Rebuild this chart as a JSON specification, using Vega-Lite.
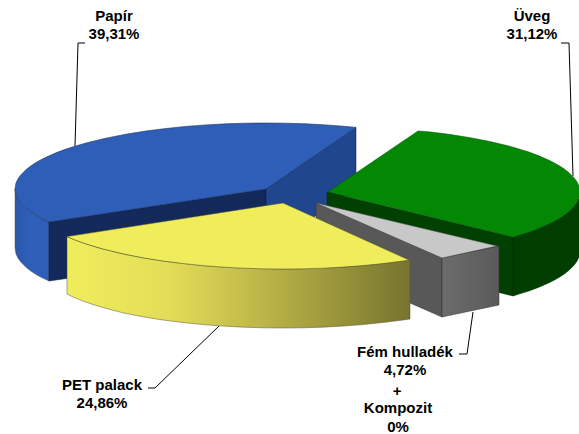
{
"$schema":"https://vega.github.io/schema/vega-lite/v6.json",
"width":579,"height":434,"padding":0,"autosize":{"type":"none"},
"background":"white","view":{"stroke":null},
"datasets":{
"shapes":[
{"part":"blueOuter","n":1,"x":15,"y":189},{"part":"blueOuter","n":2,"x":16,"y":194.9},{"part":"blueOuter","n":3,"x":18,"y":199.2},{"part":"blueOuter","n":4,"x":21,"y":203.3},{"part":"blueOuter","n":5,"x":26,"y":208.3},{"part":"blueOuter","n":6,"x":31,"y":212.2},{"part":"blueOuter","n":7,"x":36,"y":215.4},{"part":"blueOuter","n":8,"x":41,"y":218.25},{"part":"blueOuter","n":9,"x":49,"y":222},{"part":"blueOuter","n":10,"x":49,"y":281},{"part":"blueOuter","n":11,"x":41,"y":277.25},{"part":"blueOuter","n":12,"x":36,"y":274.4},{"part":"blueOuter","n":13,"x":31,"y":271.2},{"part":"blueOuter","n":14,"x":26,"y":267.3},{"part":"blueOuter","n":15,"x":21,"y":262.3},{"part":"blueOuter","n":16,"x":18,"y":258.2},{"part":"blueOuter","n":17,"x":16,"y":253.9},{"part":"blueOuter","n":18,"x":15,"y":248},{"part":"blueOuter","n":19,"x":15,"y":189},
{"part":"blueInner","n":1,"x":49,"y":222},{"part":"blueInner","n":2,"x":266,"y":189},{"part":"blueInner","n":3,"x":266,"y":250},{"part":"blueInner","n":4,"x":49,"y":281},{"part":"blueInner","n":5,"x":49,"y":222},
{"part":"blueRight","n":1,"x":266,"y":189},{"part":"blueRight","n":2,"x":356,"y":127.4},{"part":"blueRight","n":3,"x":356,"y":188},{"part":"blueRight","n":4,"x":266,"y":250},{"part":"blueRight","n":5,"x":266,"y":189},
{"part":"blueTop","n":1,"x":49,"y":222},{"part":"blueTop","n":2,"x":41,"y":218.25},{"part":"blueTop","n":3,"x":36,"y":215.4},{"part":"blueTop","n":4,"x":31,"y":212.2},{"part":"blueTop","n":5,"x":26,"y":208.3},{"part":"blueTop","n":6,"x":21,"y":203.3},{"part":"blueTop","n":7,"x":18,"y":199.2},{"part":"blueTop","n":8,"x":16,"y":194.9},{"part":"blueTop","n":9,"x":15,"y":189},{"part":"blueTop","n":10,"x":16,"y":183.1},{"part":"blueTop","n":11,"x":18,"y":178.8},{"part":"blueTop","n":12,"x":21,"y":174.7},{"part":"blueTop","n":13,"x":26,"y":169.7},{"part":"blueTop","n":14,"x":31,"y":165.8},{"part":"blueTop","n":15,"x":36,"y":162.6},{"part":"blueTop","n":16,"x":41,"y":159.75},{"part":"blueTop","n":17,"x":46,"y":157.2},{"part":"blueTop","n":18,"x":56,"y":152.85},{"part":"blueTop","n":19,"x":66,"y":149.1},{"part":"blueTop","n":20,"x":76,"y":145.9},{"part":"blueTop","n":21,"x":86,"y":143},{"part":"blueTop","n":22,"x":106,"y":138.15},{"part":"blueTop","n":23,"x":126,"y":134.2},{"part":"blueTop","n":24,"x":146,"y":131},{"part":"blueTop","n":25,"x":166,"y":128.5},{"part":"blueTop","n":26,"x":186,"y":126.4},{"part":"blueTop","n":27,"x":206,"y":124.9},{"part":"blueTop","n":28,"x":226,"y":123.85},{"part":"blueTop","n":29,"x":246,"y":123.2},{"part":"blueTop","n":30,"x":266,"y":123},{"part":"blueTop","n":31,"x":286,"y":123.2},{"part":"blueTop","n":32,"x":306,"y":123.85},{"part":"blueTop","n":33,"x":326,"y":124.9},{"part":"blueTop","n":34,"x":346,"y":126.4},{"part":"blueTop","n":35,"x":356,"y":127.4},{"part":"blueTop","n":36,"x":266,"y":189},{"part":"blueTop","n":37,"x":49,"y":222},
{"part":"greenInner","n":1,"x":327,"y":192},{"part":"greenInner","n":2,"x":513,"y":237},{"part":"greenInner","n":3,"x":513,"y":296},{"part":"greenInner","n":4,"x":327,"y":250},{"part":"greenInner","n":5,"x":327,"y":192},
{"part":"greenOuter","n":1,"x":513,"y":237},{"part":"greenOuter","n":2,"x":519,"y":235.1},{"part":"greenOuter","n":3,"x":529,"y":231.9},{"part":"greenOuter","n":4,"x":539,"y":228.15},{"part":"greenOuter","n":5,"x":549,"y":223.8},{"part":"greenOuter","n":6,"x":554,"y":221.25},{"part":"greenOuter","n":7,"x":559,"y":218.4},{"part":"greenOuter","n":8,"x":564,"y":215.2},{"part":"greenOuter","n":9,"x":569,"y":211.3},{"part":"greenOuter","n":10,"x":574,"y":206.3},{"part":"greenOuter","n":11,"x":577,"y":202.2},{"part":"greenOuter","n":12,"x":579,"y":197.9},{"part":"greenOuter","n":13,"x":580,"y":192},{"part":"greenOuter","n":14,"x":580,"y":251},{"part":"greenOuter","n":15,"x":579,"y":256.9},{"part":"greenOuter","n":16,"x":577,"y":261.2},{"part":"greenOuter","n":17,"x":574,"y":265.3},{"part":"greenOuter","n":18,"x":569,"y":270.3},{"part":"greenOuter","n":19,"x":564,"y":274.2},{"part":"greenOuter","n":20,"x":559,"y":277.4},{"part":"greenOuter","n":21,"x":554,"y":280.25},{"part":"greenOuter","n":22,"x":549,"y":282.8},{"part":"greenOuter","n":23,"x":539,"y":287.15},{"part":"greenOuter","n":24,"x":529,"y":290.9},{"part":"greenOuter","n":25,"x":519,"y":294.1},{"part":"greenOuter","n":26,"x":513,"y":296},{"part":"greenOuter","n":27,"x":513,"y":237},
{"part":"greenTop","n":1,"x":328,"y":192},{"part":"greenTop","n":2,"x":418,"y":131},{"part":"greenTop","n":3,"x":429,"y":131.8},{"part":"greenTop","n":4,"x":449,"y":134.3},{"part":"greenTop","n":5,"x":469,"y":137.4},{"part":"greenTop","n":6,"x":489,"y":141.3},{"part":"greenTop","n":7,"x":509,"y":146},{"part":"greenTop","n":8,"x":519,"y":148.9},{"part":"greenTop","n":9,"x":529,"y":152.1},{"part":"greenTop","n":10,"x":539,"y":155.85},{"part":"greenTop","n":11,"x":549,"y":160.2},{"part":"greenTop","n":12,"x":554,"y":162.75},{"part":"greenTop","n":13,"x":559,"y":165.6},{"part":"greenTop","n":14,"x":564,"y":168.8},{"part":"greenTop","n":15,"x":569,"y":172.7},{"part":"greenTop","n":16,"x":574,"y":177.7},{"part":"greenTop","n":17,"x":577,"y":181.8},{"part":"greenTop","n":18,"x":579,"y":186},{"part":"greenTop","n":19,"x":580,"y":192},{"part":"greenTop","n":20,"x":579,"y":197.9},{"part":"greenTop","n":21,"x":577,"y":202.2},{"part":"greenTop","n":22,"x":574,"y":206.3},{"part":"greenTop","n":23,"x":569,"y":211.3},{"part":"greenTop","n":24,"x":564,"y":215.2},{"part":"greenTop","n":25,"x":559,"y":218.4},{"part":"greenTop","n":26,"x":554,"y":221.25},{"part":"greenTop","n":27,"x":549,"y":223.8},{"part":"greenTop","n":28,"x":539,"y":228.15},{"part":"greenTop","n":29,"x":529,"y":231.9},{"part":"greenTop","n":30,"x":519,"y":235.1},{"part":"greenTop","n":31,"x":513,"y":237},{"part":"greenTop","n":32,"x":328,"y":192},
{"part":"greyLeft","n":1,"x":316,"y":203},{"part":"greyLeft","n":2,"x":442,"y":258},{"part":"greyLeft","n":3,"x":442,"y":317},{"part":"greyLeft","n":4,"x":316,"y":262},{"part":"greyLeft","n":5,"x":316,"y":203},
{"part":"greyFront","n":1,"x":442,"y":258},{"part":"greyFront","n":2,"x":499,"y":246},{"part":"greyFront","n":3,"x":499,"y":305},{"part":"greyFront","n":4,"x":442,"y":317},{"part":"greyFront","n":5,"x":442,"y":258},
{"part":"greyTop","n":1,"x":316,"y":203},{"part":"greyTop","n":2,"x":497,"y":246},{"part":"greyTop","n":3,"x":442,"y":258},{"part":"greyTop","n":4,"x":316,"y":203},
{"part":"yellowSide","n":1,"x":67,"y":236.6},{"part":"yellowSide","n":2,"x":73,"y":239.15},{"part":"yellowSide","n":3,"x":83,"y":242.9},{"part":"yellowSide","n":4,"x":93,"y":246.1},{"part":"yellowSide","n":5,"x":103,"y":249},{"part":"yellowSide","n":6,"x":123,"y":253.85},{"part":"yellowSide","n":7,"x":143,"y":257.8},{"part":"yellowSide","n":8,"x":163,"y":261},{"part":"yellowSide","n":9,"x":183,"y":263.5},{"part":"yellowSide","n":10,"x":203,"y":265.6},{"part":"yellowSide","n":11,"x":223,"y":267.1},{"part":"yellowSide","n":12,"x":243,"y":268.15},{"part":"yellowSide","n":13,"x":263,"y":268.8},{"part":"yellowSide","n":14,"x":283,"y":269},{"part":"yellowSide","n":15,"x":303,"y":268.8},{"part":"yellowSide","n":16,"x":323,"y":268.15},{"part":"yellowSide","n":17,"x":343,"y":267.1},{"part":"yellowSide","n":18,"x":363,"y":265.6},{"part":"yellowSide","n":19,"x":383,"y":263.5},{"part":"yellowSide","n":20,"x":403,"y":261},{"part":"yellowSide","n":21,"x":410,"y":259.8},{"part":"yellowSide","n":22,"x":410,"y":319},{"part":"yellowSide","n":23,"x":403,"y":320},{"part":"yellowSide","n":24,"x":383,"y":322.5},{"part":"yellowSide","n":25,"x":363,"y":324.6},{"part":"yellowSide","n":26,"x":343,"y":326.1},{"part":"yellowSide","n":27,"x":323,"y":327.15},{"part":"yellowSide","n":28,"x":303,"y":327.8},{"part":"yellowSide","n":29,"x":283,"y":328},{"part":"yellowSide","n":30,"x":263,"y":327.8},{"part":"yellowSide","n":31,"x":243,"y":327.15},{"part":"yellowSide","n":32,"x":223,"y":326.1},{"part":"yellowSide","n":33,"x":203,"y":324.6},{"part":"yellowSide","n":34,"x":183,"y":322.5},{"part":"yellowSide","n":35,"x":163,"y":320},{"part":"yellowSide","n":36,"x":143,"y":316.8},{"part":"yellowSide","n":37,"x":123,"y":312.85},{"part":"yellowSide","n":38,"x":103,"y":307.5},{"part":"yellowSide","n":39,"x":93,"y":304.5},{"part":"yellowSide","n":40,"x":83,"y":301},{"part":"yellowSide","n":41,"x":73,"y":297},{"part":"yellowSide","n":42,"x":67,"y":294},{"part":"yellowSide","n":43,"x":67,"y":236.6},
{"part":"yellowTop","n":1,"x":67,"y":236.6},{"part":"yellowTop","n":2,"x":283,"y":203},{"part":"yellowTop","n":3,"x":409,"y":260},{"part":"yellowTop","n":4,"x":403,"y":261},{"part":"yellowTop","n":5,"x":383,"y":263.5},{"part":"yellowTop","n":6,"x":363,"y":265.6},{"part":"yellowTop","n":7,"x":343,"y":267.1},{"part":"yellowTop","n":8,"x":323,"y":268.15},{"part":"yellowTop","n":9,"x":303,"y":268.8},{"part":"yellowTop","n":10,"x":283,"y":269},{"part":"yellowTop","n":11,"x":263,"y":268.8},{"part":"yellowTop","n":12,"x":243,"y":268.15},{"part":"yellowTop","n":13,"x":223,"y":267.1},{"part":"yellowTop","n":14,"x":203,"y":265.6},{"part":"yellowTop","n":15,"x":183,"y":263.5},{"part":"yellowTop","n":16,"x":163,"y":261},{"part":"yellowTop","n":17,"x":143,"y":257.8},{"part":"yellowTop","n":18,"x":123,"y":253.85},{"part":"yellowTop","n":19,"x":103,"y":249},{"part":"yellowTop","n":20,"x":93,"y":246.1},{"part":"yellowTop","n":21,"x":83,"y":242.9},{"part":"yellowTop","n":22,"x":73,"y":239.15},{"part":"yellowTop","n":23,"x":67,"y":236.6}
],
"leaders":[
{"slice":"Papír","n":1,"x":85,"y":43},{"slice":"Papír","n":2,"x":78,"y":43},{"slice":"Papír","n":3,"x":75,"y":146},
{"slice":"Üveg","n":1,"x":561,"y":43},{"slice":"Üveg","n":2,"x":569,"y":43},{"slice":"Üveg","n":3,"x":573,"y":176},
{"slice":"Fém","n":1,"x":459,"y":354},{"slice":"Fém","n":2,"x":467,"y":354},{"slice":"Fém","n":3,"x":473,"y":312},
{"slice":"PET","n":1,"x":148,"y":388},{"slice":"PET","n":2,"x":155,"y":388},{"slice":"PET","n":3,"x":219,"y":326}
],
"labels":[
{"t":"Papír","x":114,"y":16},{"t":"39,31%","x":114,"y":34},
{"t":"Üveg","x":532,"y":16},{"t":"31,12%","x":532,"y":34},
{"t":"Fém hulladék","x":405,"y":352},{"t":"4,72%","x":405,"y":370},{"t":"+","x":397,"y":391},{"t":"Kompozit","x":398,"y":408},{"t":"0%","x":398,"y":427},
{"t":"PET palack","x":102,"y":385},{"t":"24,86%","x":102,"y":403}
]},
"data":{"name":"shapes"},
"encoding":{
"x":{"field":"x","type":"quantitative","axis":null,"scale":{"domain":[0,579],"nice":false,"zero":false}},
"y":{"field":"y","type":"quantitative","axis":null,"scale":{"domain":[434,0],"nice":false,"zero":false}},
"order":{"field":"n","type":"quantitative"}
},
"layer":[
{"transform":[{"filter":"datum.part==='blueOuter'"}],"mark":{"type":"line","clip":true,"fill":{"gradient":"linear","x1":0,"x2":1,"y1":0,"y2":0,"stops":[{"offset":0,"color":"#2A58AC"},{"offset":0.5,"color":"#2F60BA"},{"offset":1,"color":"#2E5EB6"}]},"stroke":"#555566","strokeWidth":0.5}},
{"transform":[{"filter":"datum.part==='blueInner'"}],"mark":{"type":"line","fill":"#13295A","stroke":"#0B1A3A","strokeWidth":0.5}},
{"transform":[{"filter":"datum.part==='blueRight'"}],"mark":{"type":"line","fill":"#20478E","stroke":"#0B1A3A","strokeWidth":0.5}},
{"transform":[{"filter":"datum.part==='blueTop'"}],"mark":{"type":"line","fill":"#2E5EB8","stroke":"#1A2F60","strokeWidth":0.6}},
{"transform":[{"filter":"datum.part==='greenInner'"}],"mark":{"type":"line","fill":"#004000","stroke":"#002800","strokeWidth":0.5}},
{"transform":[{"filter":"datum.part==='greenOuter'"}],"mark":{"type":"line","fill":"#003E00","stroke":"#002800","strokeWidth":0.5}},
{"transform":[{"filter":"datum.part==='greenTop'"}],"mark":{"type":"line","fill":"#048804","stroke":"#005000","strokeWidth":0.5}},
{"transform":[{"filter":"datum.part==='greyLeft'"}],"mark":{"type":"line","fill":"#585858","stroke":"#333333","strokeWidth":0.5}},
{"transform":[{"filter":"datum.part==='greyFront'"}],"mark":{"type":"line","fill":{"gradient":"linear","x1":0,"x2":1,"y1":0,"y2":0,"stops":[{"offset":0,"color":"#6C6C6C"},{"offset":1,"color":"#5A5A5A"}]},"stroke":"#333333","strokeWidth":0.5}},
{"transform":[{"filter":"datum.part==='greyTop'"}],"mark":{"type":"line","fill":"#C8C8C8","stroke":"#555555","strokeWidth":0.5}},
{"transform":[{"filter":"datum.part==='yellowSide'"}],"mark":{"type":"line","fill":{"gradient":"linear","x1":0,"x2":1,"y1":0,"y2":0,"stops":[{"offset":0,"color":"#F0ED5C"},{"offset":0.3,"color":"#E2DD58"},{"offset":0.6,"color":"#B8B146"},{"offset":1,"color":"#76742F"}]},"stroke":"#55552A","strokeWidth":0.5}},
{"transform":[{"filter":"datum.part==='yellowTop'"}],"mark":{"type":"line","fill":"#F0ED5C","stroke":"#55552A","strokeWidth":0.5}},
{"data":{"name":"leaders"},"mark":{"type":"line","stroke":"#000000","strokeWidth":1},"encoding":{"detail":{"field":"slice"}}},
{"data":{"name":"labels"},"mark":{"type":"text","font":"Liberation Sans","fontWeight":"bold","fontSize":15,"align":"center","baseline":"middle","color":"#000000"},"encoding":{"text":{"field":"t"},"order":null}}
]
}
